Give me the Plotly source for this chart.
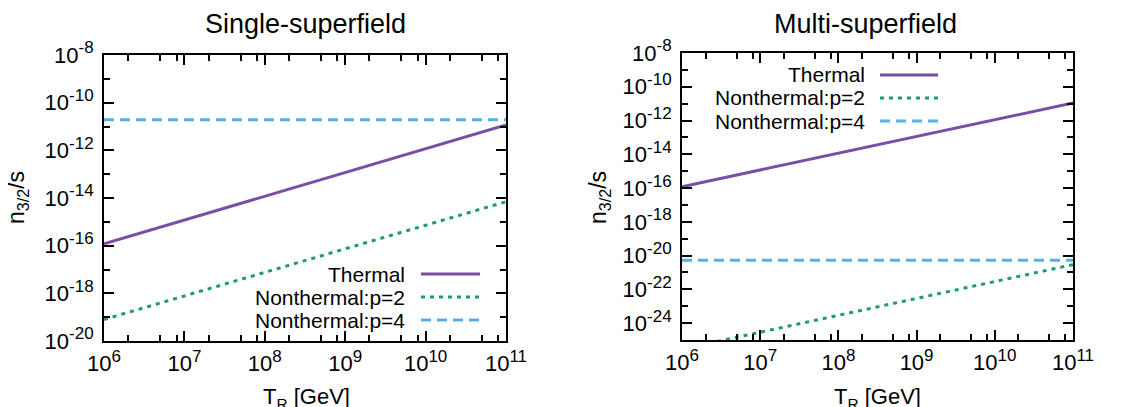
import plotly.graph_objects as go

# ---------------- data ----------------
T_R = [1e6, 1e11]

single_thermal = [1.2e-16, 1.15e-11]
single_p2 = [8.0e-20, 7.0e-15]
single_p4 = [1.9e-11, 1.9e-11]

multi_thermal = [1.2e-16, 1.1e-11]
multi_p2 = [2.9e-26, 2.9e-21]
multi_p4 = [5.3e-21, 5.3e-21]

series_names = ["Thermal", "Nonthermal:p=2", "Nonthermal:p=4"]
panel_titles = ["Single-superfield", "Multi-superfield"]

x_tick_exps = [6, 7, 8, 9, 10, 11]
y_tick_exps_single = [-8, -10, -12, -14, -16, -18, -20]
y_tick_exps_multi = [-8, -10, -12, -14, -16, -18, -20, -22, -24]

# ---------------- styles ----------------
W, H = 1146, 407
OFF = 8  # page body margin offset
FONT = "Liberation Sans, Arial, Helvetica, sans-serif"
COLORS = ["#7b4ea6", "#1f9a6c", "#56b0e0"]
DASHES = ["solid", "4px,5px", "10px,6px"]
WIDTHS = [3, 3, 3]
TICK_SIZE = 22
SUP_SIZE = 17


def px(xp):
    return (xp - OFF) / W


def py(yp):
    return 1 - (yp - OFF) / H


def pow_label(e):
    return f"10<sup><span style='font-size:{SUP_SIZE}px'>{e}</span></sup>"


fig = go.Figure()

panels = [
    dict(x="x", y="y", data=[single_thermal, single_p2, single_p4]),
    dict(x="x2", y="y2", data=[multi_thermal, multi_p2, multi_p4]),
]
for p in panels:
    for name, vals, c, d, w in zip(series_names, p["data"], COLORS, DASHES, WIDTHS):
        fig.add_trace(go.Scatter(
            x=T_R, y=vals, mode="lines", name=name, showlegend=False,
            line=dict(color=c, dash=d, width=w),
            xaxis=p["x"], yaxis=p["y"],
        ))

x_minor = [m * 10 ** e for e in range(6, 11) for m in (2, 5, 8)]


def xaxis(domain, anchor):
    return dict(
        type="log", domain=domain, anchor=anchor, range=[6, 11],
        tickvals=[10 ** e for e in x_tick_exps],
        ticktext=[pow_label(e) for e in x_tick_exps],
        ticks="inside", ticklen=10, tickwidth=1.5, tickcolor="black",
        minor=dict(tickvals=x_minor, ticks="inside", ticklen=6, tickwidth=1.5, tickcolor="black"),
        showline=True, linecolor="black", linewidth=2, mirror="ticks",
        showgrid=False, zeroline=False,
        tickfont=dict(family=FONT, size=TICK_SIZE, color="black"),
        ticklabelstandoff=2, automargin=False,
    )


def yaxis(domain, anchor, exps, rng):
    minor = [10.0 ** e for e in range(rng[0], rng[1] + 1) if e % 2 != 0]
    return dict(
        type="log", domain=domain, anchor=anchor, range=list(rng),
        tickvals=[10.0 ** e for e in exps],
        ticktext=[pow_label(e) for e in exps],
        ticks="inside", ticklen=10, tickwidth=1.5, tickcolor="black",
        minor=dict(tickvals=minor, ticks="inside", ticklen=6, tickwidth=1.5, tickcolor="black"),
        showline=True, linecolor="black", linewidth=2, mirror="ticks",
        showgrid=False, zeroline=False,
        tickfont=dict(family=FONT, size=TICK_SIZE, color="black"),
        ticklabelstandoff=4, automargin=False,
    )


fig.update_layout(
    width=W, height=H,
    margin=dict(l=0, r=0, t=0, b=0),
    paper_bgcolor="white", plot_bgcolor="white",
    font=dict(family=FONT, color="black", size=TICK_SIZE),
    xaxis=xaxis([px(104), px(506)], "y"),
    yaxis=yaxis([py(341), py(55)], "x", y_tick_exps_single, (-20, -8)),
    xaxis2=xaxis([px(682), px(1073)], "y2"),
    yaxis2=yaxis([py(340), py(53)], "x2", y_tick_exps_multi, (-25, -8)),
)

ann = []
# panel titles
for title, cx in zip(panel_titles, [305, 865]):
    ann.append(dict(text=title, x=px(cx), y=py(24), xref="paper", yref="paper",
                    xanchor="center", yanchor="middle", showarrow=False,
                    font=dict(family=FONT, size=27, color="black")))
# axis titles
for cx in [306, 877]:
    ann.append(dict(text="T<sub>R</sub> [GeV]", x=px(cx), y=py(382), xref="paper", yref="paper",
                    xanchor="center", yanchor="top", showarrow=False,
                    font=dict(family=FONT, size=22, color="black")))
for cx in [17, 599]:
    ann.append(dict(text="n<sub>3/2</sub>/s", x=px(cx), y=py(198), xref="paper", yref="paper",
                    xanchor="center", yanchor="middle", showarrow=False, textangle=-90,
                    font=dict(family=FONT, size=23, color="black")))

# manual legends (sample to the right of the text, like the original)
legends = [
    dict(text_right=407, s0=421, s1=480, rows=[274, 297, 320]),
    dict(text_right=867, s0=880, s1=938, rows=[75, 98, 121]),
]
shapes = []
for lg in legends:
    for name, row, c, d, w in zip(series_names, lg["rows"], COLORS, DASHES, WIDTHS):
        ann.append(dict(text=name, x=px(lg["text_right"]), y=py(row), xref="paper", yref="paper",
                        xanchor="right", yanchor="middle", showarrow=False,
                        font=dict(family=FONT, size=21, color="black")))
        shapes.append(dict(type="line", xref="paper", yref="paper",
                           x0=px(lg["s0"]), x1=px(lg["s1"]), y0=py(row), y1=py(row),
                           line=dict(color=c, dash=d, width=w)))

fig.update_layout(annotations=ann, shapes=shapes)
fig.write_html("out.html")
